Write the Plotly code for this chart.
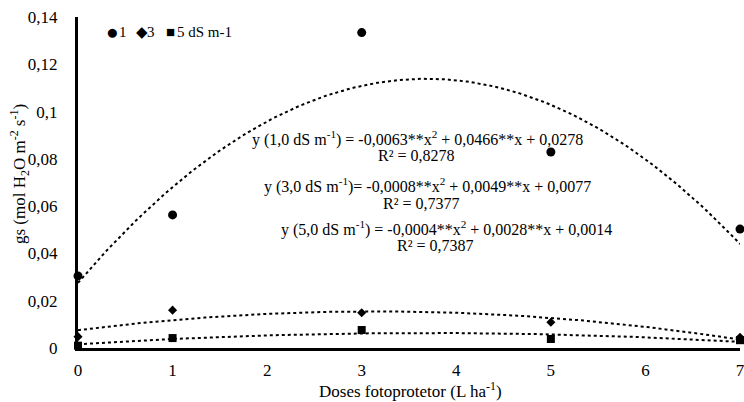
import numpy as np
import plotly.graph_objects as go

doses = [0, 1, 3, 5, 7]
gs_1 = [0.0305, 0.0563, 0.1334, 0.0829, 0.0503]
gs_3 = [0.0048, 0.0160, 0.0149, 0.0109, 0.0045]
gs_5 = [0.0010, 0.0042, 0.0076, 0.0038, 0.0033]

series_names = ["1", "3", "5 dS m-1"]
symbols = ["circle", "diamond", "square"]
marker_sizes = [9, 7, 8]

eq_lines = [
    "y (1,0 dS m<sup>-1</sup>) = -0,0063**x<sup>2</sup> + 0,0466**x + 0,0278",
    "R² = 0,8278",
    "y (3,0 dS m<sup>-1</sup>)= -0,0008**x<sup>2</sup> + 0,0049**x + 0,0077",
    "R² = 0,7377",
    "y (5,0 dS m<sup>-1</sup>) = -0,0004**x<sup>2</sup> + 0,0028**x + 0,0014",
    "R² = 0,7387",
]

y_ticks = [0, 0.02, 0.04, 0.06, 0.08, 0.1, 0.12, 0.14]
y_tick_labels = ["0", "0,02", "0,04", "0,06", "0,08", "0,1", "0,12", "0,14"]
x_ticks = [0, 1, 2, 3, 4, 5, 6, 7]

FONT = "Liberation Serif"
L, R, T, B = 78, 4, 17, 54
W, H = 744, 402
PW, PH = W - L - R, H - T - B


def px(xp):
    return (xp - L) / PW


def py(yp):
    return (H - B - yp) / PH


fig = go.Figure()
xs = np.linspace(0, 7, 200)
for ys in [gs_1, gs_3, gs_5]:
    coef = np.polyfit(doses, ys, 2)
    fig.add_trace(go.Scatter(x=xs, y=np.polyval(coef, xs), mode="lines",
                             line=dict(color="black", width=2, dash="dot"),
                             showlegend=False, hoverinfo="skip", cliponaxis=False))
for ys, sym, name, ms in zip([gs_1, gs_3, gs_5], symbols, series_names, marker_sizes):
    fig.add_trace(go.Scatter(x=doses, y=ys, mode="markers", name=name,
                             marker=dict(symbol=sym, color="black", size=ms),
                             showlegend=False, cliponaxis=False))

# legend drawn as text
leg_items = [("●", 112, 21), ("1", 123, 15), ("◆", 142, 15), ("3", 151, 15), ("■", 170, 15), ("5 dS m-1", 204, 15)]
for txt, xpix, fs in leg_items:
    fig.add_annotation(x=px(xpix), y=py(32), xref="paper", yref="paper", xanchor="center", yanchor="middle",
                       text=txt, showarrow=False, font=dict(family=FONT, size=fs, color="black"))

eq_pix = [(417, 138), (416, 156), (427, 185), (421, 203), (446, 228), (435, 245)]
for (xp_, yp_), t in zip(eq_pix, eq_lines):
    fig.add_annotation(x=px(xp_), y=py(yp_), xref="paper", yref="paper", text=t, showarrow=False,
                       xanchor="center", yanchor="middle",
                       font=dict(family=FONT, size=16, color="black"))

# axis titles
fig.add_annotation(x=px(410), y=py(390), xref="paper", yref="paper", showarrow=False,
                   text="Doses fotoprotetor (L ha<sup>-1</sup>)", xanchor="center", yanchor="middle",
                   font=dict(family=FONT, size=17, color="black"))
fig.add_annotation(x=px(19), y=py(174), xref="paper", yref="paper", showarrow=False, textangle=-90,
                   text="gs (mol H<sub>2</sub>O m<sup>-2</sup> s<sup>-1</sup>)", xanchor="center", yanchor="middle",
                   font=dict(family=FONT, size=17, color="black"))

fig.update_layout(
    width=W, height=H,
    margin=dict(l=L, r=R, t=T, b=B),
    paper_bgcolor="white", plot_bgcolor="white",
    font=dict(family=FONT, size=17, color="black"),
    showlegend=False,
)
fig.update_xaxes(range=[0, 7], tickvals=x_ticks, showgrid=False, zeroline=False, automargin=False,
                 showline=True, linecolor="black", linewidth=3, ticks="",
                 ticklabelstandoff=5, ticklabeloverflow="allow",
                 tickfont=dict(family=FONT, size=17))
fig.update_yaxes(range=[0, 0.14], tickvals=y_ticks, ticktext=y_tick_labels, showgrid=False, automargin=False,
                 zeroline=False, showline=True, linecolor="black", linewidth=3, ticks="",
                 ticklabelstandoff=14, ticklabeloverflow="allow",
                 tickfont=dict(family=FONT, size=17))

fig.write_html("out.html", config={"displayModeBar": False},
               post_script="document.body.style.margin='0';document.body.style.overflow='hidden';")
